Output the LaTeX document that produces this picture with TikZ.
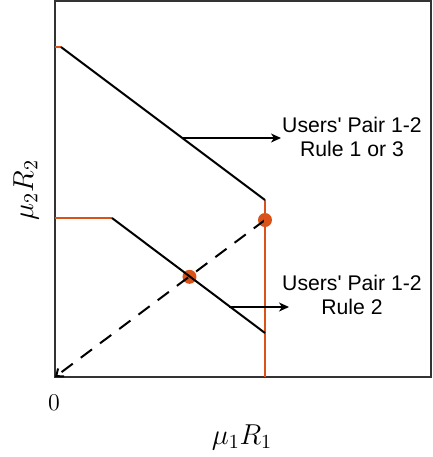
\documentclass[tikz,border=0pt]{standalone}
\usepackage{fontspec}
\newfontfamily\lblfont{Liberation Sans}[Ligatures=TeXOff]
\usetikzlibrary{arrows.meta}
\definecolor{morange}{HTML}{D95319}
\definecolor{frame}{HTML}{333333}
\tikzset{
  curve/.style={line width=1pt, black},
  orangeline/.style={line width=1pt, morange},
  dot/.style={circle, fill=morange, inner sep=0pt, minimum size=7pt},
  lbl/.style={font=\lblfont\fontsize{10.6}{12}\selectfont, align=center, inner sep=0pt},
  pointer/.style={line width=0.7pt, -{Stealth[length=5pt, width=4.5pt, inset=1.5pt]}},
}
\begin{document}
\begin{tikzpicture}[x=0.5pt, y=-0.5pt]
\useasboundingbox (0,0) rectangle (433,457);
% frame
\draw[frame, line width=0.9pt] (55,1) rectangle (431,377);
% coordinates
\coordinate (o) at (55,377);
\coordinate (a0) at (55,47);
\coordinate (a1) at (61,47);
\coordinate (a2) at (265,200);
\coordinate (a3) at (265,377);
\coordinate (b0) at (55,218);
\coordinate (b1) at (112,218);
\coordinate (b2) at (265,333);
\coordinate (p1s) at (182,138);
\coordinate (p2s) at (229,307);
% dots
\node[dot] (d1) at (265,220) {};
\node[dot] (d2) at (189.5,276.8) {};
% dashed line
\draw[line width=1pt, dashed, dash pattern=on 7pt off 5pt, -{Straight Barb[length=3pt, width=5pt]}] (d1.center) -- (o);
% orange parts
\draw[orangeline] (a0) -- (a1);
\draw[orangeline] (a2) -- (a3);
\draw[orangeline] (b0) -- (b1);
% black lines
\draw[curve, line join=miter] (a1) -- (a2);
\draw[curve] (b1) -- (b2);
% labels
\node[lbl] (t1) at (352,137) {Users' Pair 1-2\\Rule 1 or 3};
\node[lbl] (t2) at (352,295) {Users' Pair 1-2\\Rule 2};
\draw[pointer] (p1s) -- (281,138);
\draw[pointer] (p2s) -- (289,307);
% axis labels
\node[font=\fontsize{12}{14}\selectfont] (zero) at (54,403) {$0$};
\node[font=\fontsize{14}{16}\selectfont] (xl) at (242,437) {$\mu_1R_1$};
\node[font=\fontsize{14}{16}\selectfont, rotate=90] (yl) at (26,190) {$\mu_2R_2$};
\end{tikzpicture}
\end{document}
